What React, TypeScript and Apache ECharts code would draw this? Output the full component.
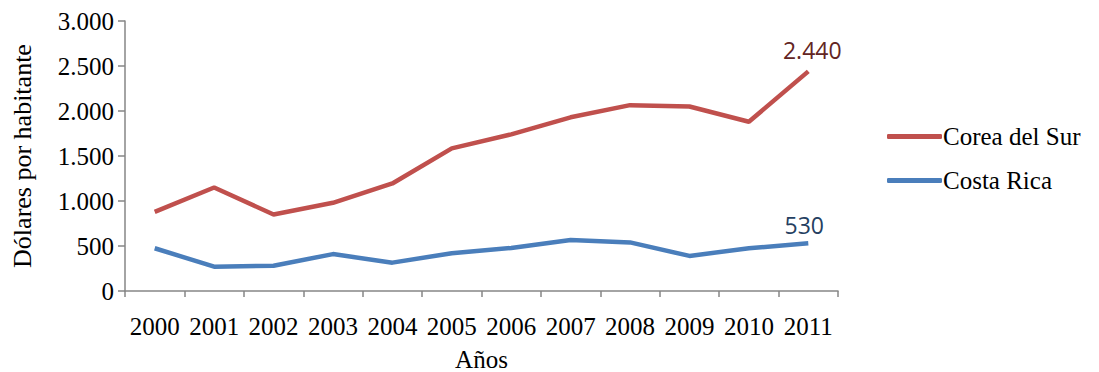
import React, { useEffect, useRef } from "react";
import * as echarts from "echarts";

const years = ["2000", "2001", "2002", "2003", "2004", "2005", "2006", "2007", "2008", "2009", "2010", "2011"];
const coreaDelSur = [880, 1150, 850, 980, 1195, 1585, 1740, 1930, 2065, 2050, 1880, 2440];
const costaRica = [475, 270, 280, 410, 315, 420, 478, 567, 540, 390, 475, 530];
const yTicks = { min: 0, max: 3000, interval: 500 };

const serif = "'Liberation Serif', 'Times New Roman', serif";
const sans = "'Open Sans', 'Noto Sans', sans-serif";

function fmt(v: number): string {
  return String(v).replace(/\B(?=(\d{3})+(?!\d))/g, ".");
}

export default function App() {
  const ref = useRef<HTMLDivElement>(null);
  useEffect(() => {
    if (!ref.current) return;
    const chart = echarts.init(ref.current, null, { renderer: "svg" });
    const last = years.length - 1;
    const mkData = (arr: number[], color: string, dx: number, dist: number) =>
      arr.map((v, i) =>
        i === last
          ? {
              value: v,
              label: {
                show: true,
                position: "top",
                distance: dist,
                offset: [dx, 0],
                formatter: () => fmt(v),
                color,
                fontFamily: sans,
                fontSize: 23,
              },
            }
          : v
      );
    chart.setOption({
      animation: false,
      backgroundColor: "#ffffff",
      grid: { left: 125, right: 261, top: 21, bottom: 81, containLabel: false, outerBoundsMode: "none" },
      legend: {
        orient: "vertical",
        left: 882,
        top: 119,
        itemGap: 19,
        itemWidth: 55,
        itemHeight: 5,
        icon: "roundRect",
        textStyle: { fontFamily: serif, fontSize: 25, color: "#000", padding: [0, 0, 0, -4] },
        data: ["Corea del Sur", "Costa Rica"],
      },
      xAxis: {
        type: "category",
        data: years,
        boundaryGap: true,
        name: "Años",
        nameLocation: "middle",
        nameGap: 56,
        nameTextStyle: { fontFamily: serif, fontSize: 25, color: "#000" },
        axisLine: { lineStyle: { color: "#868686", width: 1.5 } },
        axisTick: { show: true, length: 6, lineStyle: { color: "#868686", width: 1.5 } },
        axisLabel: { fontFamily: serif, fontSize: 25, color: "#000", margin: 23, interval: 0 },
        splitLine: { show: false },
      },
      yAxis: {
        type: "value",
        min: yTicks.min,
        max: yTicks.max,
        interval: yTicks.interval,
        name: "Dólares por habitante",
        nameLocation: "middle",
        nameGap: 90,
        nameRotate: 90,
        nameTextStyle: { fontFamily: serif, fontSize: 26, color: "#000" },
        axisLine: { show: true, lineStyle: { color: "#868686", width: 1.5 } },
        axisTick: { show: true, length: 7, lineStyle: { color: "#868686", width: 1.5 } },
        axisLabel: { fontFamily: serif, fontSize: 25, color: "#000", margin: 11, formatter: (v: number) => fmt(v) },
        splitLine: { show: false },
      },
      series: [
        {
          name: "Corea del Sur",
          type: "line",
          data: mkData(coreaDelSur, "#632523", 4, 10),
          symbol: "circle",
          symbolSize: 0,
          showSymbol: true,
          lineStyle: { color: "#C0504D", width: 4.5 },
          itemStyle: { color: "#C0504D" },
        },
        {
          name: "Costa Rica",
          type: "line",
          data: mkData(costaRica, "#254061", -4, 7),
          symbol: "circle",
          symbolSize: 0,
          showSymbol: true,
          lineStyle: { color: "#4A7EBB", width: 4.5 },
          itemStyle: { color: "#4A7EBB" },
        },
      ],
    });
    return () => chart.dispose();
  }, []);
  return (
    <div
      ref={ref}
      style={{ position: "fixed", left: 0, top: 0, width: 1099, height: 372, background: "#fff" }}
    />
  );
}
